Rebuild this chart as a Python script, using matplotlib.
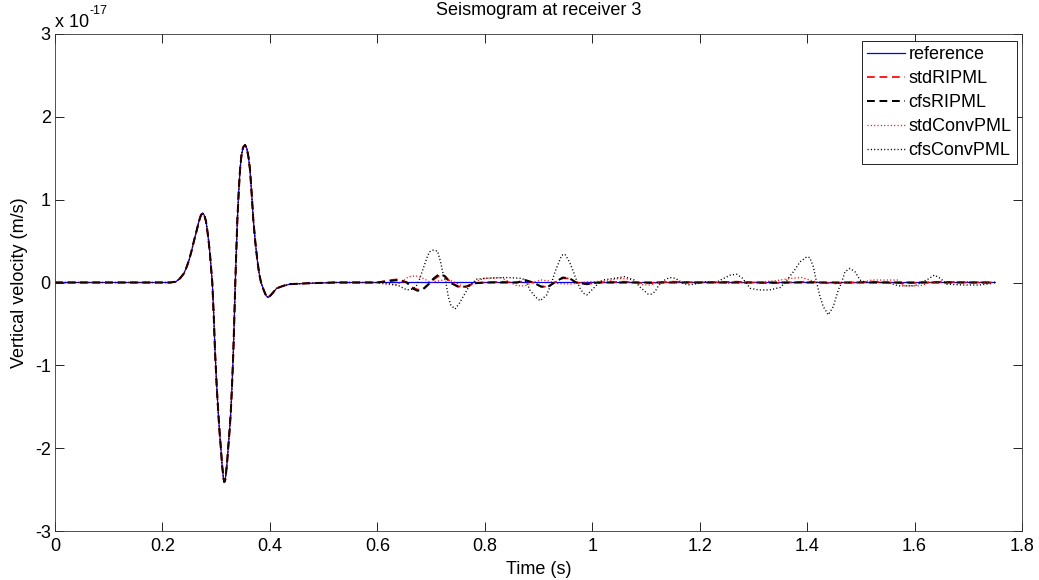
import matplotlib
matplotlib.use('Agg')
import matplotlib.pyplot as plt
import numpy as np

plt.rcParams['font.family'] = ['Liberation Sans', 'DejaVu Sans']
plt.rcParams['axes.unicode_minus'] = False
plt.rcParams['lines.scale_dashes'] = False

# common direct arrival (all five traces overlap here), units of 1e-17 m/s
pulse_t = [0.0, 0.20, 0.215, 0.225, 0.2327, 0.240, 0.2452, 0.250, 0.2545, 0.259,
           0.2638, 0.268, 0.2715, 0.2749, 0.278, 0.281, 0.2835, 0.286, 0.2885,
           0.2905, 0.2928, 0.2955, 0.2978, 0.301, 0.304, 0.3065, 0.3085, 0.311,
           0.3135, 0.3152, 0.317, 0.320, 0.3226, 0.325, 0.3271, 0.3295, 0.3319,
           0.3337, 0.3356, 0.3375, 0.3394, 0.342, 0.3444, 0.347, 0.350, 0.3537,
           0.357, 0.360, 0.363, 0.366, 0.3691, 0.373, 0.3766, 0.380, 0.3835,
           0.389, 0.393, 0.397, 0.402, 0.4127, 0.425, 0.4375, 0.4685]
pulse_v = [0.0, 0.0, 0.0, 0.01, 0.05, 0.11, 0.19, 0.28, 0.39, 0.51,
           0.63, 0.74, 0.81, 0.84, 0.81, 0.74, 0.63, 0.50, 0.34,
           0.18, 0.0, -0.40, -0.82, -1.25, -1.58, -1.82, -1.98, -2.20,
           -2.36, -2.41, -2.38, -2.20, -1.98, -1.78, -1.58, -1.25, -0.85,
           -0.45, 0.0, 0.38, 0.75, 1.10, 1.36, 1.53, 1.63, 1.66,
           1.62, 1.52, 1.36, 1.08, 0.76, 0.48, 0.27, 0.11, 0.0,
           -0.10, -0.16, -0.18, -0.15, -0.07, -0.04, -0.02, -0.01]

# tails after the direct arrival (boundary reflections)
ref_tail_t = [0.52, 1.75]
ref_tail_v = [0.0, 0.0]

stdrip_tail_t = [0.52, 0.60, 0.625, 0.64, 0.655, 0.668, 0.678, 0.688, 0.698, 0.708,
                 0.717, 0.727, 0.737, 0.752, 0.767, 0.78, 0.80, 0.83, 0.86, 0.875,
                 0.89, 0.905, 0.918, 0.93, 0.945, 0.958, 0.97, 0.99, 1.01, 1.06,
                 1.10, 1.15, 1.20, 1.27, 1.33, 1.40, 1.45, 1.52, 1.58, 1.65, 1.70, 1.75]
stdrip_tail_v = [0.0, 0.0, 0.03, 0.04, 0.0, -0.07, -0.09, -0.07, -0.01, 0.05,
                 0.09, 0.07, 0.0, -0.05, -0.05, -0.01, 0.0, 0.01, 0.0, 0.02,
                 0.0, -0.05, -0.05, 0.0, 0.05, 0.05, 0.0, -0.02, 0.0, 0.01,
                 -0.01, 0.01, 0.0, 0.01, -0.01, 0.01, -0.01, 0.01, -0.01, 0.01, 0.0, 0.0]

cfsrip_tail_t = [0.52, 0.60, 0.625, 0.64, 0.655, 0.665, 0.675, 0.685, 0.695, 0.705,
                 0.715, 0.725, 0.735, 0.75, 0.765, 0.78, 0.80, 0.86, 0.875, 0.89,
                 0.905, 0.918, 0.93, 0.945, 0.958, 0.97, 0.99, 1.01, 1.10, 1.20,
                 1.30, 1.40, 1.50, 1.60, 1.75]
cfsrip_tail_v = [0.0, 0.0, 0.02, 0.03, 0.0, -0.07, -0.10, -0.08, -0.02, 0.05,
                 0.10, 0.08, 0.0, -0.05, -0.05, -0.01, 0.0, 0.0, 0.03, 0.0,
                 -0.05, -0.05, 0.0, 0.06, 0.05, 0.0, -0.02, 0.0, 0.0, 0.0,
                 0.0, 0.0, 0.0, 0.0, 0.0]

stdconv_tail_t = [0.52, 0.60, 0.615, 0.632, 0.645, 0.658, 0.672, 0.685, 0.70, 0.715,
                  0.73, 0.745, 0.76, 0.772, 0.785, 0.80, 0.83, 0.845, 0.86, 0.875,
                  0.888, 0.905, 0.918, 0.93, 0.96, 0.98, 1.0, 1.03, 1.05, 1.07,
                  1.08, 1.095, 1.108, 1.12, 1.20, 1.25, 1.30, 1.34, 1.37, 1.39,
                  1.41, 1.43, 1.50, 1.52, 1.57, 1.58, 1.61, 1.63, 1.70, 1.746]
stdconv_tail_v = [0.0, 0.0, -0.02, -0.03, 0.0, 0.07, 0.08, 0.05, 0.0, 0.02,
                  0.04, 0.0, -0.05, -0.04, 0.02, 0.05, 0.06, 0.01, -0.04, -0.04,
                  0.0, 0.03, 0.02, -0.01, -0.02, 0.0, 0.01, 0.02, 0.05, 0.04,
                  0.0, -0.03, -0.03, 0.0, 0.01, -0.01, 0.0, 0.02, 0.05, 0.06,
                  0.02, -0.01, 0.0, 0.03, 0.03, -0.04, -0.04, 0.0, 0.01, 0.0]

cfsconv_tail_t = [0.52, 0.60, 0.62, 0.64, 0.655, 0.665, 0.672, 0.678, 0.6856, 0.6919,
                  0.6968, 0.703, 0.712, 0.7177, 0.7215, 0.7278, 0.732, 0.7366, 0.7446,
                  0.7527, 0.7633, 0.7726, 0.785, 0.80, 0.84, 0.87, 0.878, 0.884,
                  0.8936, 0.903, 0.9153, 0.9246, 0.9308, 0.937, 0.9433, 0.9494,
                  0.9575, 0.9638, 0.9712, 0.9774, 0.9836, 0.99, 1.0022, 1.0085,
                  1.02, 1.04, 1.06, 1.078, 1.088, 1.095, 1.104, 1.11, 1.117, 1.123,
                  1.132, 1.144, 1.155, 1.167, 1.178, 1.19, 1.21, 1.23, 1.245, 1.257,
                  1.269, 1.28, 1.294, 1.31, 1.33, 1.35, 1.359, 1.3745, 1.387, 1.3993,
                  1.405, 1.4116, 1.4178, 1.424, 1.430, 1.4395, 1.4488, 1.4581, 1.4643,
                  1.4705, 1.4798, 1.4891, 1.4985, 1.51, 1.55, 1.57, 1.60, 1.625,
                  1.637, 1.648, 1.66, 1.69, 1.72, 1.746]
cfsconv_tail_v = [0.0, 0.0, -0.01, -0.04, -0.09, -0.08, -0.05, 0.03, 0.17, 0.29,
                  0.37, 0.39, 0.38, 0.25, 0.13, 0.0, -0.17, -0.27, -0.32,
                  -0.25, -0.13, -0.03, 0.04, 0.05, 0.06, 0.05, 0.0, -0.09,
                  -0.17, -0.22, -0.15, 0.0, 0.13, 0.23, 0.33, 0.34,
                  0.25, 0.15, 0.02, -0.07, -0.13, -0.15, -0.07, -0.03,
                  0.03, 0.05, 0.07, 0.03, -0.05, -0.09, -0.14, -0.14, -0.11, -0.04,
                  0.02, 0.06, 0.05, 0.0, -0.03, -0.02, 0.01, 0.0, 0.05, 0.09,
                  0.10, 0.05, -0.07, -0.09, -0.09, -0.06, 0.0, 0.13, 0.25, 0.31,
                  0.30, 0.19, 0.0, -0.17, -0.29, -0.39, -0.29, -0.09, 0.0,
                  0.13, 0.17, 0.13, 0.03, 0.0, 0.0, -0.04, -0.04, 0.04,
                  0.09, 0.05, -0.02, -0.03, -0.03, -0.01]

labels = ['reference', 'stdRIPML', 'cfsRIPML', 'stdConvPML', 'cfsConvPML']
tails = [(ref_tail_t, ref_tail_v), (stdrip_tail_t, stdrip_tail_v),
         (cfsrip_tail_t, cfsrip_tail_v), (stdconv_tail_t, stdconv_tail_v),
         (cfsconv_tail_t, cfsconv_tail_v)]
# red traces slightly thinner so the black ones on top hide them on the pulse
styles = [dict(color='blue', lw=0.9, ls='-'),
          dict(color='red', lw=1.25, dashes=(5.6, 3.4)),
          dict(color='black', lw=1.45, dashes=(5.6, 3.4)),
          dict(color='red', lw=0.9, dashes=(0.8, 1.6)),
          dict(color='black', lw=1.0, dashes=(0.8, 1.6))]

FS = 13
W, H = 1039, 580
fig = plt.figure(figsize=(W / 100, H / 100), dpi=100)
fig.patch.set_facecolor('white')
ax = fig.add_axes([55 / W, 1 - 531 / H, (1022 - 55) / W, (531 - 34) / H])

for lab, (tt, vv), st in zip(labels, tails, styles):
    t = np.concatenate([pulse_t, tt])
    v = np.concatenate([pulse_v, vv])
    ax.plot(t, v, label=lab, **st)

ax.set_xlim(0, 1.8)
ax.set_ylim(-3, 3)
ax.set_xticks(np.arange(0, 1.81, 0.2))
ax.set_xticklabels(['0', '0.2', '0.4', '0.6', '0.8', '1', '1.2', '1.4', '1.6', '1.8'])
ax.set_yticks(np.arange(-3, 4, 1))
ax.set_yticklabels(['-3', '-2', '-1', '0', '1', '2', '3'])
ax.tick_params(direction='in', length=6.5, width=0.6, top=True, right=True,
               labelsize=FS)
ax.tick_params(axis='x', pad=5)
ax.tick_params(axis='y', pad=3)
for s in ax.spines.values():
    s.set_linewidth(0.6)
    s.set_color('#333333')

ax.set_xlabel('Time (s)', fontsize=FS, labelpad=4)
ax.set_ylabel('Vertical velocity (m/s)', fontsize=FS, labelpad=5)
ax.set_title('Seismogram at receiver 3', fontsize=FS, pad=14)

ax.text(0, 1.006, 'x 10', transform=ax.transAxes, ha='left', va='bottom', fontsize=FS)
ax.text(0.036, 1.034, '-17', transform=ax.transAxes, ha='left', va='bottom', fontsize=9)

leg = ax.legend(loc='upper right', bbox_to_anchor=(1017 / W, 1 - 41 / H),
                bbox_transform=fig.transFigure, borderaxespad=0, fontsize=FS,
                fancybox=False, framealpha=1, edgecolor='black',
                handlelength=2.1, handletextpad=0.2, labelspacing=0.38,
                borderpad=0.3)
leg.get_frame().set_linewidth(0.6)

fig.savefig('out.png', dpi=100)
